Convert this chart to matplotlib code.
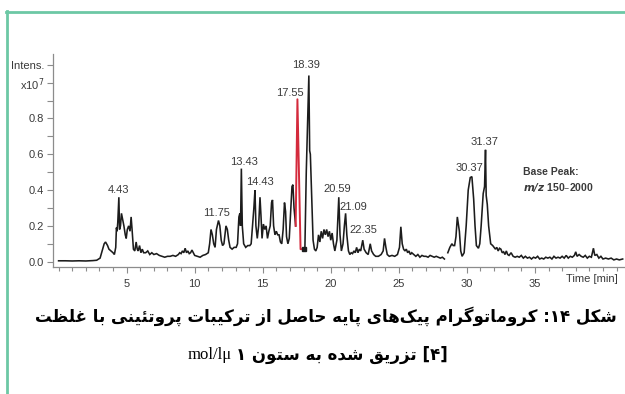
import numpy as np
import matplotlib.pyplot as plt
from matplotlib.lines import Line2D
from matplotlib.ticker import FixedLocator, FixedFormatter, MultipleLocator

# ---------------------------------------------------------------
# Base peak chromatogram (intensity in units of 1e7)
# ---------------------------------------------------------------
time_min = [
    0.0, 0.5, 1.0, 1.5, 2.0, 2.5, 2.8, 3.05, 3.2, 3.35, 3.45, 3.6, 3.7, 3.85,
    4.0, 4.1, 4.2, 4.25, 4.3, 4.35, 4.43, 4.48, 4.55, 4.62, 4.7, 4.8, 4.9,
    4.97, 5.05, 5.15, 5.25, 5.33, 5.4, 5.5, 5.6, 5.7, 5.78, 5.85, 5.95, 6.05,
    6.15, 6.25, 6.4, 6.55, 6.7, 6.85, 7.0, 7.2, 7.4, 7.6, 7.8, 8.0, 8.2, 8.4,
    8.6, 8.8, 8.9, 9.0, 9.1, 9.2, 9.3, 9.4, 9.5, 9.6, 9.7, 9.8, 9.9, 10.0,
    10.2, 10.4, 10.6, 10.8, 11.0, 11.1, 11.2, 11.3, 11.4, 11.5, 11.6, 11.75,
    11.85, 11.95, 12.05, 12.15, 12.3, 12.4, 12.5, 12.6, 12.75, 12.9, 13.05,
    13.15, 13.25, 13.32, 13.37, 13.43, 13.5, 13.6, 13.75, 13.9, 14.05, 14.15,
    14.25, 14.35, 14.43, 14.5, 14.6, 14.7, 14.8, 14.87, 14.95, 15.05, 15.15,
    15.25, 15.35, 15.45, 15.55, 15.65, 15.72, 15.8, 15.9, 16.0, 16.1, 16.2,
    16.3, 16.4, 16.5, 16.6, 16.68, 16.75, 16.85, 16.95, 17.05, 17.15, 17.22,
    17.3, 17.42,
    np.nan,
    18.0, 18.1, 18.2, 18.39, 18.45, 18.5, 18.6, 18.7, 18.8, 18.9, 19.0, 19.1,
    19.2, 19.3, 19.4, 19.5, 19.6, 19.7, 19.8, 19.9, 20.0, 20.1, 20.2, 20.3,
    20.45, 20.59, 20.68, 20.78, 20.9, 21.0, 21.09, 21.18, 21.3, 21.4, 21.5,
    21.6, 21.7, 21.8, 21.9, 22.0, 22.1, 22.2, 22.35, 22.45, 22.6, 22.75, 22.9,
    23.0, 23.15, 23.3, 23.5, 23.7, 23.85, 23.95, 24.05, 24.15, 24.3, 24.5,
    24.7, 24.9, 25.05, 25.15, 25.25, 25.35, 25.45, 25.55, 25.65, 25.75, 25.85,
    25.95, 26.1, 26.25, 26.4, 26.55, 26.7, 26.85, 27.0, 27.15, 27.3, 27.45,
    27.6, 27.75, 27.9, 28.05, 28.2, 28.35,
    np.nan,
    28.6, 28.75, 28.9, 29.0, 29.1, 29.2, 29.3, 29.45, 29.55, 29.65, 29.8,
    29.95, 30.1, 30.25, 30.37, 30.5, 30.6, 30.7, 30.85, 30.95, 31.05, 31.2,
    31.3, 31.37, 31.42, 31.5, 31.6, 31.75, 31.9, 32.0, 32.1, 32.2, 32.3, 32.4,
    32.5, 32.6, 32.7, 32.8, 32.9, 33.0, 33.1, 33.25, 33.4, 33.55, 33.7, 33.85,
    34.0, 34.15, 34.3, 34.45, 34.6, 34.75, 34.9, 35.05, 35.2, 35.35, 35.5,
    35.65, 35.8, 35.95, 36.1, 36.25, 36.4, 36.55, 36.7, 36.85, 37.0, 37.15,
    37.3, 37.45, 37.6, 37.75, 37.9, 38.0, 38.1, 38.25, 38.4, 38.55, 38.7,
    38.85, 39.0, 39.15, 39.3, 39.4, 39.55, 39.7, 39.85, 40.0, 40.2, 40.4,
    40.6, 40.8, 41.0, 41.2, 41.45,
]
intensity = [
    0.005, 0.005, 0.004, 0.005, 0.004, 0.006, 0.008, 0.02, 0.06, 0.10, 0.11,
    0.09, 0.07, 0.06, 0.05, 0.04, 0.08, 0.19, 0.17, 0.22, 0.36, 0.18, 0.20,
    0.27, 0.24, 0.20, 0.15, 0.13, 0.18, 0.20, 0.17, 0.25, 0.18, 0.07, 0.06,
    0.11, 0.07, 0.06, 0.09, 0.05, 0.07, 0.05, 0.05, 0.06, 0.04, 0.05, 0.04,
    0.045, 0.035, 0.03, 0.025, 0.03, 0.03, 0.035, 0.03, 0.04, 0.05, 0.045,
    0.06, 0.05, 0.075, 0.05, 0.06, 0.045, 0.05, 0.065, 0.05, 0.035, 0.03,
    0.025, 0.035, 0.04, 0.05, 0.10, 0.18, 0.15, 0.10, 0.08, 0.18, 0.23, 0.20,
    0.12, 0.09, 0.10, 0.20, 0.18, 0.12, 0.08, 0.07, 0.08, 0.08, 0.10, 0.25,
    0.27, 0.20, 0.52, 0.20, 0.10, 0.08, 0.09, 0.09, 0.10, 0.20, 0.30, 0.40,
    0.20, 0.13, 0.20, 0.36, 0.26, 0.13, 0.21, 0.18, 0.20, 0.13, 0.17, 0.20,
    0.33, 0.345, 0.20, 0.15, 0.17, 0.15, 0.15, 0.11, 0.10, 0.18, 0.33, 0.28,
    0.14, 0.10, 0.13, 0.28, 0.42, 0.43, 0.30, 0.20,
    np.nan,
    0.07, 0.08, 0.50, 1.04, 0.62, 0.60, 0.35, 0.12, 0.07, 0.06, 0.08, 0.15,
    0.11, 0.17, 0.13, 0.18, 0.15, 0.18, 0.14, 0.17, 0.12, 0.16, 0.10, 0.06,
    0.12, 0.36, 0.15, 0.06, 0.10, 0.20, 0.27, 0.15, 0.06, 0.04, 0.05, 0.045,
    0.06, 0.05, 0.08, 0.05, 0.07, 0.06, 0.12, 0.07, 0.05, 0.04, 0.10, 0.06,
    0.04, 0.03, 0.03, 0.04, 0.06, 0.13, 0.08, 0.04, 0.03, 0.035, 0.03, 0.04,
    0.08, 0.195, 0.10, 0.07, 0.06, 0.07, 0.05, 0.06, 0.04, 0.05, 0.04, 0.03,
    0.04, 0.025, 0.035, 0.03, 0.03, 0.025, 0.035, 0.03, 0.025, 0.03, 0.025,
    0.02, 0.025, 0.015,
    np.nan,
    0.05, 0.08, 0.10, 0.09, 0.09, 0.14, 0.25, 0.17, 0.06, 0.03, 0.05, 0.20,
    0.40, 0.47, 0.475, 0.35, 0.20, 0.09, 0.075, 0.10, 0.20, 0.38, 0.42, 0.625,
    0.37, 0.32, 0.20, 0.10, 0.09, 0.08, 0.07, 0.08, 0.06, 0.075, 0.07, 0.05,
    0.055, 0.04, 0.06, 0.04, 0.035, 0.05, 0.03, 0.025, 0.03, 0.025, 0.035,
    0.02, 0.03, 0.02, 0.025, 0.015, 0.025, 0.02, 0.03, 0.015, 0.02, 0.015,
    0.025, 0.02, 0.025, 0.015, 0.03, 0.02, 0.025, 0.02, 0.03, 0.02, 0.035,
    0.02, 0.03, 0.025, 0.035, 0.055, 0.03, 0.04, 0.03, 0.025, 0.035, 0.02,
    0.03, 0.025, 0.075, 0.035, 0.04, 0.02, 0.03, 0.015, 0.02, 0.015, 0.02,
    0.01, 0.015, 0.01, 0.015,
]

# highlighted extracted peak (drawn in red)
red_time = [17.42, 17.55, 17.78, 18.0]
red_intensity = [0.20, 0.907, 0.07, 0.07]

peak_labels = ['4.43', '11.75', '13.43', '14.43', '17.55', '18.39',
               '20.59', '21.09', '22.35', '30.37', '31.37']
peak_height = [0.36, 0.23, 0.52, 0.40, 0.907, 1.04,
               0.36, 0.27, 0.12, 0.475, 0.625]
# label offset from the apex, in pixels
label_dx = [0, -1.5, 2.6, 5.5, -7.5, -2.4, -1.3, 8, 1, -2, -1]
label_dy = [7, 7.5, 6.6, 8, 6.4, 10.5, 8, 6.5, 10, 8.7, 8]

x_major = [5, 10, 15, 20, 25, 30, 35]
y_ticks = [0.0, 0.1, 0.2, 0.3, 0.4, 0.5, 0.6, 0.7, 0.8, 0.9, 1.0, 1.1]
y_tick_labels = ['0.0', '', '0.2', '', '0.4', '', '0.6', '', '0.8', '',
                 'x10$^7$', 'Intens.']

caption_1 = 'شکل ۱۴: کروماتوگرام پیک\u200cهای پایه حاصل از ترکیبات پروتئینی با غلظت'
caption_2 = 'تزریق شده به ستون'
caption_unit = 'mol/lμ'

# ---------------------------------------------------------------
# Persian shaping (matplotlib has no complex text layout)
# ---------------------------------------------------------------
FORMS = {
    'ا': ('\uFE8D', '\uFE8E', None, None),
    'ب': ('\uFE8F', '\uFE90', '\uFE91', '\uFE92'),
    'پ': ('\uFB56', '\uFB57', '\uFB58', '\uFB59'),
    'ت': ('\uFE95', '\uFE96', '\uFE97', '\uFE98'),
    'ح': ('\uFEA1', '\uFEA2', '\uFEA3', '\uFEA4'),
    'د': ('\uFEA9', '\uFEAA', None, None),
    'ر': ('\uFEAD', '\uFEAE', None, None),
    'ز': ('\uFEAF', '\uFEB0', None, None),
    'س': ('\uFEB1', '\uFEB2', '\uFEB3', '\uFEB4'),
    'ش': ('\uFEB5', '\uFEB6', '\uFEB7', '\uFEB8'),
    'ص': ('\uFEB9', '\uFEBA', '\uFEBB', '\uFEBC'),
    'ظ': ('\uFEC5', '\uFEC6', '\uFEC7', '\uFEC8'),
    'غ': ('\uFECD', '\uFECE', '\uFECF', '\uFED0'),
    'ق': ('\uFED5', '\uFED6', '\uFED7', '\uFED8'),
    'ک': ('\uFB8E', '\uFB8F', '\uFB90', '\uFB91'),
    'گ': ('\uFB92', '\uFB93', '\uFB94', '\uFB95'),
    'ل': ('\uFEDD', '\uFEDE', '\uFEDF', '\uFEE0'),
    'م': ('\uFEE1', '\uFEE2', '\uFEE3', '\uFEE4'),
    'ن': ('\uFEE5', '\uFEE6', '\uFEE7', '\uFEE8'),
    'ه': ('\uFEE9', '\uFEEA', '\uFEEB', '\uFEEC'),
    'و': ('\uFEED', '\uFEEE', None, None),
    'ی': ('\uFBFC', '\uFBFD', '\uFBFE', '\uFBFF'),
    'ئ': ('\uFE89', '\uFE8A', '\uFE8B', '\uFE8C'),
}
DIGITS = set('0123456789۰۱۲۳۴۵۶۷۸۹')


def rtl(text):
    out = []
    for i, ch in enumerate(text):
        if ch not in FORMS:
            out.append(ch)
            continue
        prev = text[i - 1] if i > 0 else ''
        nxt = text[i + 1] if i + 1 < len(text) else ''
        join_prev = prev in FORMS and FORMS[prev][2] is not None
        join_next = FORMS[ch][2] is not None and nxt in FORMS
        form = {(False, False): 0, (True, False): 1,
                (False, True): 2, (True, True): 3}[(join_prev, join_next)]
        out.append(FORMS[ch][form])
    s = ''.join(c for c in out if c != '\u200c')[::-1]
    # numbers keep left-to-right order
    res, run = '', ''
    for c in s:
        if c in DIGITS:
            run += c
        else:
            res += run[::-1] + c
            run = ''
    res += run[::-1]
    return res.replace('[', '\0').replace(']', '[').replace('\0', ']')


# ---------------------------------------------------------------
# Figure
# ---------------------------------------------------------------
W, H = 625, 394
fig = plt.figure(figsize=(W / 100, H / 100), dpi=100)
ax = fig.add_axes([53 / W, (H - 266.7) / H, 572 / W, 212.7 / H])

ink = '#1c1c1c'
axis_grey = '#8c8c8c'
txt_grey = '#3a3a3a'
cond = ['Liberation Sans Narrow', 'Liberation Sans', 'DejaVu Sans']

ax.plot(time_min, intensity, color=ink, lw=1.15, solid_joinstyle='miter')
ax.plot(red_time, red_intensity, color='#d42a3c', lw=1.4)
ax.plot([red_time[-1]], [red_intensity[-1]], 's', color=ink, ms=3.5)

for lab, h, dx, dy in zip(peak_labels, peak_height, label_dx, label_dy):
    ax.annotate(lab, (float(lab), h), xytext=(dx, dy),
                textcoords='offset pixels', ha='center', va='center',
                fontsize=8, color=txt_grey, family=cond)

ax.text(34.1, 0.50, 'Base Peak:', fontsize=7.5, fontweight='bold',
        color=txt_grey, family=cond, va='center')
ax.text(34.1, 0.415, r'$\mathbfit{m/z}$ 150–2000', fontsize=7.5,
        fontweight='bold', color=txt_grey, family=cond, va='center')
ax.annotate('Time [min]', (37.3, 0), xytext=(0, -17), textcoords='offset pixels',
            ha='left', va='center', fontsize=8, color=txt_grey, family=cond,
            annotation_clip=False)

ax.set_xlim(-0.41, 41.62)
ax.set_ylim(-0.028, 1.16)
for s in ['top', 'right']:
    ax.spines[s].set_visible(False)
for s in ['left', 'bottom']:
    ax.spines[s].set_color(axis_grey)
    ax.spines[s].set_linewidth(0.9)

ax.xaxis.set_major_locator(FixedLocator(x_major))
ax.xaxis.set_minor_locator(MultipleLocator(1))
ax.yaxis.set_major_locator(FixedLocator(y_ticks))
ax.yaxis.set_major_formatter(FixedFormatter(y_tick_labels))
ax.tick_params(axis='x', which='major', length=4, width=0.8, color=axis_grey,
               pad=5, labelsize=8, labelcolor=txt_grey)
ax.tick_params(axis='x', which='minor', length=3, width=0.8, color=axis_grey)
ax.tick_params(axis='y', length=4, width=0.8, color=axis_grey, pad=2.5,
               labelsize=8, labelcolor=txt_grey)
for t in ax.get_xticklabels() + ax.get_yticklabels():
    t.set_family(cond)

# green frame
frame_c = '#6cc8a5'
fig.add_artist(Line2D([6 / W, 1], [1 - 11.5 / H] * 2, color=frame_c, lw=2,
                      transform=fig.transFigure))
fig.add_artist(Line2D([7 / W] * 2, [0, 1 - 10.5 / H], color=frame_c, lw=2,
                      transform=fig.transFigure))

# caption
fig.text(326 / W, 1 - 316 / H, rtl(caption_1), ha='center', va='center',
         fontsize=12, fontweight='bold', family='DejaVu Sans', color='black')
fa_part = fig.text(342 / W, 1 - 355 / H, '۱ ' + rtl(caption_2) + ' ' + rtl('[۴]'),
                   ha='center', va='center', fontsize=12, fontweight='bold',
                   family='DejaVu Sans', color='black')
fig.canvas.draw()
bb = fa_part.get_window_extent()
fig.text((bb.x0 - 4) / W, 1 - 355 / H, caption_unit, ha='right', va='center',
         fontsize=12, family='Liberation Serif', color='black')

plt.savefig('out.png', dpi=100)
